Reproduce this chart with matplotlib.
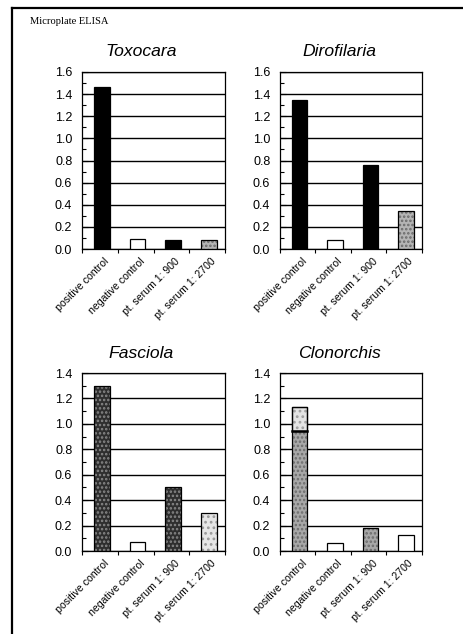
import matplotlib.pyplot as plt
from matplotlib.lines import Line2D
from matplotlib.ticker import MultipleLocator

plt.rcParams['font.family'] = ['Liberation Sans', 'DejaVu Sans']
plt.rcParams['hatch.linewidth'] = 1.2

categories = ['positive control', 'negative control', 'pt. serum 1: 900', 'pt. serum 1: 2700']

toxocara = [1.46, 0.09, 0.085, 0.078]
dirofilaria = [1.35, 0.085, 0.755, 0.34]
fasciola = [1.30, 0.07, 0.50, 0.30]
clonorchis = [1.13, 0.06, 0.18, 0.125]
clonorchis_lower = 0.94  # dark band inside the positive control bar

# bar fills: (facecolor, hatch, hatch colour)
black = ('black', None, None)
white = ('white', None, None)
gray_dots = ('#b4b4b4', '....', '#6a6a6a')
dark_dots = ('#2e2e2e', '....', '#8a8a8a')
light_dots = ('#e6e6e6', '...', '#9a9a9a')
clon_dots = ('#a8a8a8', '....', '#6c6c6c')
clon_light = ('#e4e4e4', '...', '#a0a0a0')

W, H = 464, 634
fig = plt.figure(figsize=(W / 100, H / 100), dpi=100)


def draw_bar(ax, x, top, style, bottom=0.0, width=0.44):
    fc, hatch, hc = style
    if hatch:
        ax.bar(x, top - bottom, width, bottom=bottom, color=fc,
               hatch=hatch, edgecolor=hc, linewidth=0, zorder=3)
        ax.bar(x, top - bottom, width, bottom=bottom, fill=False,
               edgecolor='black', linewidth=0.9, zorder=4)
    else:
        ax.bar(x, top - bottom, width, bottom=bottom, color=fc,
               edgecolor='black', linewidth=0.9, zorder=3)


def panel(box, title, values, styles, ymax):
    l, t, r, b = box
    ax = fig.add_axes([l / W, (H - b) / H, (r - l) / W, (b - t) / H])
    for i, (v, s) in enumerate(zip(values, styles)):
        draw_bar(ax, i + 0.05, v, s)
    ax.set_xlim(-0.5, 3.5)
    ax.set_ylim(0, ymax)
    ax.yaxis.set_major_locator(MultipleLocator(0.2))
    ax.yaxis.set_minor_locator(MultipleLocator(0.1))
    ax.yaxis.set_major_formatter(plt.FuncFormatter(lambda v, p: f'{v:.1f}'))
    ax.grid(axis='y', which='major', color='black', linewidth=1.0, zorder=1)
    ax.set_axisbelow(True)
    ax.tick_params(axis='y', which='major', direction='in', length=4,
                   width=0.8, labelsize=9, pad=7)
    ax.tick_params(axis='y', which='minor', direction='in', length=3, width=0.8)
    # boundary ticks on the category axis, labels in the middle
    ax.set_xticks([-0.5, 0.5, 1.5, 2.5, 3.5])
    ax.set_xticklabels([])
    ax.set_xticks([i + 0.1 for i in range(4)], minor=True)
    ax.set_xticklabels(categories, minor=True, rotation=45, ha='right',
                       rotation_mode='anchor', fontsize=7.6)
    ax.tick_params(axis='x', which='major', direction='out', length=3, width=0.8)
    ax.tick_params(axis='x', which='minor', length=0, pad=5)
    for sp in ax.spines.values():
        sp.set_linewidth(0.9)
    fig.text(((l + r) / 2 - 12) / W, (H - t + 20) / H, title, ha='center',
             va='center', fontsize=12.6, style='italic')
    return ax


panel((82, 72, 225, 249), 'Toxocara', toxocara,
      [black, white, black, gray_dots], 1.6)
panel((280, 72, 422, 249), 'Dirofilaria', dirofilaria,
      [black, white, black, gray_dots], 1.6)
panel((82, 373, 225, 551), 'Fasciola', fasciola,
      [dark_dots, white, dark_dots, light_dots], 1.4)
ax4 = panel((280, 373, 422, 551), 'Clonorchis', clonorchis,
            [clon_dots, white, clon_dots, white], 1.4)
# Clonorchis positive control: lighter upper part above the dark band
draw_bar(ax4, 0.05, clonorchis[0], clon_light, bottom=clonorchis_lower)
ax4.plot([-0.17, 0.27], [clonorchis_lower, clonorchis_lower],
         color='black', linewidth=1.8, zorder=5)

fig.text(30 / W, 1 - 22 / H, 'Microplate ELISA', family='Liberation Serif',
         fontsize=7.6, va='center', ha='left')

# outer frame of the figure panel
fig.add_artist(Line2D([12 / W, 12 / W], [0, 1 - 8 / H], color='black',
                      linewidth=1.6, transform=fig.transFigure))
fig.add_artist(Line2D([12 / W, 1], [1 - 8 / H, 1 - 8 / H], color='black',
                      linewidth=1.6, transform=fig.transFigure))

fig.savefig('out.png', dpi=100)
